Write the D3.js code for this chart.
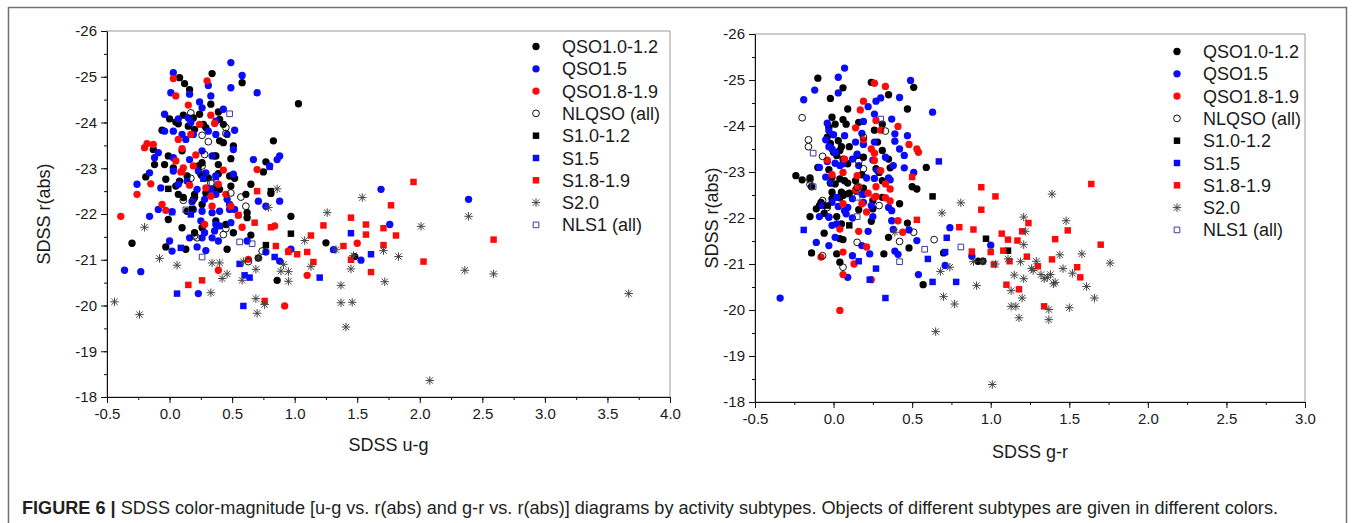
<!DOCTYPE html>
<html><head><meta charset="utf-8">
<script src="https://cdn.jsdelivr.net/npm/d3@7"></script>
<style>
body{margin:0;background:#fff;}
svg{font-family:"Liberation Sans",Arial,sans-serif;}
</style></head><body>
<script>
'use strict';
const W = 1354, H = 523;

// ---- left panel: u-g vs r(abs) ----
const ugQSO10 = [[0.08,-24.98],[0.12,-24.85],[0.16,-24.72],[0.34,-25.07],[0.58,-24.87],[1.03,-24.41],[0.00,-24.08],[0.05,-24.01],[0.11,-24.16],[0.19,-24.10],[0.24,-24.18],[0.33,-24.40],[0.39,-24.23],[0.40,-24.07],[0.43,-23.96],[-0.06,-23.83],[0.07,-23.97],[0.15,-23.92],[0.20,-23.85],[0.27,-23.96],[0.29,-23.89],[-0.13,-23.41],[-0.01,-23.27],[0.10,-23.38],[-0.12,-23.08],[-0.04,-23.08],[0.03,-23.01],[0.23,-23.05],[0.26,-23.12],[0.37,-23.27],[0.39,-23.08],[0.43,-23.56],[0.49,-23.21],[0.51,-23.49],[0.40,-23.60],[-0.19,-22.81],[-0.03,-22.76],[0.08,-22.72],[0.05,-22.61],[0.14,-22.83],[0.25,-22.87],[0.31,-22.79],[0.39,-22.88],[0.48,-22.83],[0.52,-22.78],[0.65,-22.65],[0.83,-23.60],[0.77,-23.14],[0.75,-22.92],[0.07,-22.43],[0.11,-22.36],[0.20,-22.43],[0.26,-22.21],[0.29,-22.46],[0.37,-22.57],[0.40,-22.54],[0.49,-22.61],[0.61,-22.43],[0.62,-22.03],[0.62,-21.92],[-0.01,-21.88],[0.10,-21.70],[0.20,-21.59],[0.26,-21.70],[0.37,-21.85],[0.45,-21.77],[0.51,-21.59],[0.65,-21.54],[0.97,-21.95],[0.81,-22.45],[-0.30,-21.36],[-0.03,-21.28],[0.13,-21.23],[0.46,-21.23],[0.71,-21.04],[0.86,-20.55],[1.25,-21.37],[1.48,-21.07],[0.20,-22.36],[0.14,-22.06]];
const ugQSO15 = [[0.49,-25.31],[0.03,-25.09],[0.58,-25.03],[0.01,-24.65],[0.16,-24.62],[0.49,-24.76],[0.70,-24.65],[0.31,-24.81],[0.33,-24.58],[0.24,-24.45],[0.26,-24.32],[-0.04,-24.18],[0.07,-24.08],[0.15,-24.10],[0.43,-24.29],[0.17,-24.00],[0.37,-24.03],[-0.04,-23.81],[0.03,-23.81],[0.10,-23.74],[0.19,-23.74],[0.31,-23.81],[0.13,-23.63],[0.52,-23.83],[0.46,-23.74],[0.37,-23.74],[-0.09,-23.34],[0.03,-23.23],[0.16,-23.19],[0.26,-23.38],[0.34,-23.27],[0.51,-23.41],[0.67,-23.19],[-0.12,-23.23],[-0.16,-22.90],[0.03,-22.94],[0.23,-22.94],[0.29,-22.90],[0.37,-22.83],[0.51,-22.87],[-0.26,-22.65],[-0.07,-22.57],[0.07,-22.65],[0.22,-22.54],[0.33,-22.54],[0.37,-22.43],[0.46,-22.32],[0.28,-22.32],[0.71,-22.28],[0.77,-22.17],[0.88,-22.28],[0.80,-23.05],[0.86,-23.19],[0.88,-23.27],[0.14,-22.72],[-0.09,-22.10],[0.02,-22.05],[0.19,-22.10],[0.26,-22.06],[0.34,-22.03],[0.40,-22.06],[0.48,-22.10],[0.52,-22.10],[-0.16,-21.95],[0.25,-21.85],[0.37,-21.77],[0.49,-21.81],[0.28,-21.59],[0.36,-21.63],[0.40,-21.74],[0.26,-21.48],[0.34,-21.48],[0.39,-21.41],[0.00,-21.41],[0.02,-21.19],[0.22,-21.28],[0.29,-21.20],[0.16,-21.48],[0.62,-21.41],[0.77,-21.17],[0.88,-20.97],[0.97,-21.23],[1.31,-21.22],[1.53,-20.99],[1.69,-22.54],[1.76,-21.77],[2.39,-22.32],[-0.36,-20.77],[-0.23,-20.74],[0.23,-20.26],[0.18,-22.27],[0.48,-22.21]];
const ugQSO18 = [[0.03,-24.96],[0.05,-24.58],[0.30,-24.91],[0.15,-24.38],[0.33,-24.16],[0.36,-23.98],[0.24,-23.96],[0.17,-23.74],[0.07,-23.63],[-0.20,-23.45],[-0.18,-23.54],[-0.13,-23.52],[0.10,-23.43],[0.21,-23.29],[0.05,-23.16],[0.11,-23.01],[0.19,-23.05],[0.43,-22.96],[0.70,-22.97],[-0.15,-22.66],[-0.06,-22.21],[-0.03,-22.08],[0.29,-22.57],[0.39,-22.65],[0.45,-22.43],[0.33,-22.39],[0.34,-22.17],[0.49,-22.17],[0.55,-21.97],[0.58,-21.71],[0.84,-21.74],[-0.26,-22.43],[-0.39,-21.95],[0.28,-21.77],[0.39,-20.77],[0.63,-21.01],[0.95,-21.19],[1.10,-20.66],[1.50,-21.36],[0.92,-19.99],[0.09,-22.92],[0.16,-22.63]];
const ugNLQSO = [[0.17,-24.21],[0.26,-23.72],[0.31,-23.58],[0.28,-23.30],[0.36,-23.27],[0.45,-23.89],[0.45,-23.76],[0.17,-22.78],[0.26,-22.83],[0.33,-22.68],[0.49,-22.46],[0.57,-22.37],[0.61,-22.17],[0.11,-22.30],[0.19,-22.32],[0.20,-21.52],[0.22,-21.48],[0.43,-21.55],[0.45,-21.68],[0.63,-20.96],[0.74,-21.19],[0.26,-23.05]];
const ugS10 = [[-0.01,-22.55],[0.18,-22.11],[0.81,-22.50],[0.97,-21.57],[0.77,-21.32]];
const ugS15 = [[0.02,-22.04],[0.17,-21.99],[0.80,-23.03],[0.09,-21.26],[0.56,-20.91],[0.60,-20.66],[0.64,-20.61],[0.84,-21.06],[1.20,-20.61],[1.45,-21.58],[1.61,-21.12],[0.06,-20.26],[0.59,-19.99],[0.37,-22.81],[0.27,-22.77]];
const ugS18 = [[0.10,-22.92],[0.70,-22.50],[0.55,-21.98],[0.68,-21.81],[0.81,-21.71],[1.13,-21.53],[1.23,-21.75],[1.45,-21.92],[1.57,-21.77],[1.57,-21.55],[1.71,-21.69],[1.77,-22.19],[1.95,-22.70],[1.81,-21.53],[1.71,-21.32],[1.39,-21.30],[1.45,-21.00],[0.85,-21.30],[0.95,-21.17],[1.02,-21.12],[1.10,-21.17],[1.15,-20.95],[1.61,-20.73],[2.03,-20.96],[2.59,-21.44],[0.15,-20.45],[0.26,-20.55],[0.76,-20.10]];
const ugS20 = [[-0.44,-20.08],[-0.24,-19.80],[-0.20,-21.71],[-0.08,-21.03],[0.06,-20.88],[0.33,-20.28],[0.34,-20.93],[0.40,-20.93],[0.42,-20.59],[0.46,-20.69],[0.58,-20.55],[0.59,-20.96],[0.69,-20.79],[0.69,-20.15],[0.70,-19.83],[0.76,-20.02],[0.71,-21.04],[0.86,-22.55],[0.79,-22.14],[0.89,-20.75],[0.91,-20.90],[0.95,-20.53],[0.95,-20.74],[1.08,-21.42],[1.13,-20.85],[1.26,-22.03],[1.37,-20.44],[1.37,-20.06],[1.46,-20.07],[1.41,-19.53],[1.45,-20.80],[1.47,-21.09],[1.54,-22.36],[1.71,-21.20],[1.72,-20.52],[1.83,-21.07],[2.01,-21.73],[2.08,-18.36],[2.36,-20.77],[2.39,-21.95],[2.59,-20.69],[3.67,-20.26],[1.33,-21.22]];
const ugNLS1 = [[0.48,-24.19],[0.13,-22.09],[0.56,-21.39],[0.66,-21.35],[0.26,-21.06],[0.34,-22.68]];

// ---- right panel: g-r vs r(abs) ----
const grQSO10 = [[-0.10,-25.04],[-0.02,-24.60],[0.06,-24.83],[0.24,-24.95],[0.35,-24.68],[0.51,-24.84],[0.47,-24.37],[0.09,-24.37],[-0.01,-24.19],[0.01,-24.04],[-0.03,-23.97],[0.06,-24.14],[0.08,-24.04],[0.16,-24.08],[0.26,-23.91],[0.31,-24.04],[-0.04,-23.76],[-0.02,-23.62],[0.03,-23.68],[0.05,-23.55],[0.04,-23.47],[0.10,-23.55],[0.00,-23.43],[0.02,-23.36],[0.06,-23.28],[0.09,-23.18],[0.15,-23.36],[0.19,-23.32],[0.28,-23.65],[0.31,-23.47],[0.35,-23.28],[-0.24,-22.92],[-0.20,-22.83],[-0.15,-22.87],[-0.14,-22.68],[-0.10,-23.10],[-0.03,-23.05],[-0.01,-22.89],[0.04,-22.85],[0.01,-22.74],[0.07,-22.81],[0.09,-22.76],[0.14,-22.81],[0.18,-22.94],[0.27,-23.07],[0.29,-22.99],[0.31,-22.81],[0.36,-23.09],[0.59,-23.10],[0.50,-22.68],[0.53,-22.63],[-0.11,-22.20],[-0.08,-22.34],[-0.01,-22.56],[-0.01,-22.42],[0.04,-22.44],[0.05,-22.56],[0.10,-22.54],[0.14,-22.60],[0.19,-22.65],[0.25,-22.38],[0.31,-22.45],[-0.15,-22.03],[-0.09,-22.27],[-0.06,-22.10],[-0.03,-22.02],[0.02,-22.03],[0.05,-21.87],[0.04,-21.55],[0.06,-21.53],[-0.06,-21.67],[0.16,-22.18],[0.24,-21.93],[0.25,-22.20],[0.35,-21.58],[0.42,-22.31],[0.47,-21.89],[0.48,-21.35],[-0.14,-21.24],[0.02,-21.22],[0.04,-21.04],[0.32,-21.22],[0.57,-20.55],[0.70,-21.24],[0.92,-21.06],[0.95,-21.06],[0.06,-22.49]];
const grQSO15 = [[-0.19,-24.57],[-0.12,-24.78],[0.03,-25.06],[0.03,-24.72],[0.07,-25.26],[0.49,-24.99],[0.42,-24.62],[0.22,-24.42],[0.27,-24.54],[0.30,-24.61],[0.26,-24.26],[0.63,-24.30],[-0.04,-24.06],[-0.03,-23.90],[0.00,-23.81],[0.07,-23.79],[0.19,-24.10],[0.18,-23.84],[0.14,-23.65],[0.26,-23.65],[0.37,-24.15],[0.39,-23.83],[0.39,-23.67],[0.42,-23.50],[0.45,-23.36],[-0.05,-23.70],[-0.03,-23.55],[-0.01,-23.50],[0.01,-23.43],[-0.04,-23.23],[0.06,-23.18],[0.12,-23.28],[0.15,-23.39],[0.19,-23.60],[0.25,-23.26],[0.33,-23.32],[0.38,-23.14],[0.45,-23.09],[0.47,-23.79],[0.51,-22.99],[-0.09,-23.10],[-0.05,-22.89],[-0.02,-22.76],[0.01,-23.19],[0.04,-23.14],[0.16,-23.14],[0.21,-22.87],[0.28,-23.03],[0.26,-22.86],[0.35,-22.87],[0.36,-22.83],[-0.07,-22.27],[-0.01,-22.34],[0.02,-22.45],[0.03,-22.25],[0.07,-22.16],[0.09,-22.23],[0.12,-22.42],[0.18,-22.52],[0.19,-22.34],[0.24,-22.27],[0.25,-22.03],[0.35,-22.23],[0.37,-22.16],[-0.03,-22.02],[-0.01,-21.84],[0.02,-21.87],[0.08,-22.09],[0.12,-22.00],[0.22,-21.71],[0.19,-22.51],[0.37,-21.94],[0.38,-21.75],[-0.09,-22.03],[-0.11,-21.47],[-0.03,-21.40],[0.01,-21.58],[0.12,-21.18],[0.09,-20.71],[0.18,-21.40],[0.23,-21.22],[0.39,-21.28],[0.41,-21.21],[0.48,-21.74],[0.53,-21.51],[0.54,-20.77],[0.74,-21.79],[0.71,-20.97],[1.00,-21.41],[0.88,-21.17],[-0.34,-20.26]];
const grQSO18 = [[0.26,-24.93],[0.33,-24.86],[0.19,-24.54],[0.17,-24.35],[0.27,-24.12],[0.30,-23.91],[0.14,-23.96],[0.41,-23.99],[0.19,-23.70],[0.24,-23.50],[0.26,-23.41],[0.26,-23.25],[0.07,-23.28],[0.06,-22.99],[-0.01,-22.94],[-0.04,-23.26],[0.48,-23.60],[0.53,-23.50],[0.54,-23.43],[0.15,-22.92],[0.27,-22.68],[0.30,-23.03],[0.33,-22.74],[0.36,-22.63],[0.16,-22.68],[0.14,-22.61],[0.22,-22.54],[0.18,-22.31],[0.27,-22.47],[0.33,-22.44],[0.36,-22.37],[0.21,-22.13],[0.06,-22.31],[0.41,-21.94],[0.44,-21.69],[0.04,-21.76],[0.16,-21.71],[0.21,-21.37],[0.06,-21.26],[0.13,-21.00],[0.06,-20.77],[-0.08,-21.15],[0.04,-19.99],[0.24,-20.66],[0.26,-22.45]];
const grNLQSO = [[-0.20,-24.18],[-0.16,-23.70],[-0.16,-23.55],[-0.15,-22.83],[-0.15,-22.73],[-0.07,-23.34],[-0.07,-22.38],[-0.02,-22.76],[-0.04,-22.23],[0.19,-23.76],[0.16,-23.23],[0.19,-23.07],[0.33,-23.89],[0.29,-22.27],[0.15,-22.67],[0.15,-21.47],[0.42,-21.49],[0.51,-21.69],[0.64,-21.53],[0.06,-20.93],[-0.07,-21.18]];
const grS10 = [[0.09,-22.52],[0.10,-21.84],[0.63,-22.47],[0.97,-21.55],[1.11,-21.29],[-0.04,-22.27]];
const grS15 = [[-0.19,-21.74],[0.67,-23.23],[0.72,-21.57],[0.60,-21.11],[0.71,-21.26],[0.27,-20.90],[0.23,-20.66],[0.63,-20.61],[0.78,-20.61],[0.33,-20.26],[0.16,-21.06]];
const grS18 = [[0.50,-22.89],[0.53,-21.96],[0.80,-21.80],[0.89,-21.75],[0.94,-22.67],[0.94,-22.18],[1.03,-22.47],[0.88,-21.27],[1.00,-21.26],[1.07,-21.66],[1.11,-21.53],[1.08,-21.29],[1.17,-21.51],[1.20,-21.71],[1.24,-21.89],[1.12,-21.06],[1.02,-20.99],[1.23,-21.16],[1.30,-20.95],[1.39,-21.10],[1.41,-21.54],[1.49,-21.73],[1.55,-20.93],[1.57,-20.71],[1.64,-22.74],[1.70,-21.42],[1.10,-20.55],[1.18,-20.45],[1.34,-20.08]];
const grS20 = [[0.81,-22.33],[0.69,-22.11],[0.39,-21.69],[0.68,-20.84],[0.74,-20.93],[0.70,-20.29],[0.77,-20.13],[0.65,-19.53],[0.91,-20.53],[0.89,-21.05],[0.95,-21.06],[1.03,-21.00],[1.11,-21.11],[1.15,-20.76],[1.19,-21.05],[1.21,-22.02],[1.22,-21.71],[1.21,-21.42],[1.21,-20.68],[1.13,-20.42],[1.13,-20.08],[1.16,-20.08],[1.18,-19.83],[1.20,-20.26],[1.26,-20.90],[1.27,-20.86],[1.29,-21.06],[1.32,-20.77],[1.34,-20.68],[1.36,-20.71],[1.38,-20.77],[1.37,-20.01],[1.37,-19.79],[1.39,-22.52],[1.40,-20.57],[1.41,-20.60],[1.44,-21.20],[1.46,-20.90],[1.48,-21.94],[1.52,-20.80],[1.50,-20.05],[1.58,-21.22],[1.61,-20.51],[1.66,-20.26],[1.76,-21.02],[1.01,-18.38]];
const grNLS1 = [[-0.13,-23.41],[-0.13,-22.68],[0.30,-24.15],[0.15,-22.03],[0.42,-21.05],[0.58,-21.32],[0.81,-21.37],[0.15,-22.45]];

const seriesNames = ['QSO1.0-1.2','QSO1.5','QSO1.8-1.9','NLQSO (all)','S1.0-1.2','S1.5','S1.8-1.9','S2.0','NLS1 (all)'];
const yTicks = [-26,-25,-24,-23,-22,-21,-20,-19,-18];
const ugTicks = [-0.5,0.0,0.5,1.0,1.5,2.0,2.5,3.0,3.5,4.0];
const grTicks = [-0.5,0.0,0.5,1.0,1.5,2.0,2.5,3.0];

// marker style per series, in legend order
const styles = [
  {shape:'circle', fill:'#000', stroke:'none'},
  {shape:'circle', fill:'#0a0aff', stroke:'none'},
  {shape:'circle', fill:'#ff0a0a', stroke:'none'},
  {shape:'circle', fill:'none', stroke:'#111'},
  {shape:'square', fill:'#000', stroke:'none'},
  {shape:'square', fill:'#0a0aff', stroke:'none'},
  {shape:'square', fill:'#ff0a0a', stroke:'none'},
  {shape:'star', fill:'none', stroke:'#454545'},
  {shape:'square', fill:'none', stroke:'#3b3b9e'}
];

const symStar = {
  draw(ctx, size) {
    const r = Math.sqrt(size) / 2, d = r * 0.75;
    ctx.moveTo(0, -r); ctx.lineTo(0, r);
    ctx.moveTo(-r, 0); ctx.lineTo(r, 0);
    ctx.moveTo(-d, -d); ctx.lineTo(d, d);
    ctx.moveTo(-d, d); ctx.lineTo(d, -d);
  }
};

function symPath(st) {
  if (st.shape === 'circle') return d3.symbol(d3.symbolCircle, st.fill === 'none' ? 36 : 42)();
  if (st.shape === 'square') return d3.symbol(d3.symbolSquare, st.fill === 'none' ? 32 : 42)();
  return d3.symbol(symStar, 72)();
}

function styleMarks(sel, st) {
  sel.attr('d', symPath(st))
    .attr('fill', st.fill)
    .attr('stroke', st.stroke)
    .attr('stroke-width', 1);
}

const svg = d3.select('body').append('svg').attr('width', W).attr('height', H);

// figure frame
svg.append('rect').attr('x', 8.5).attr('y', 7.5).attr('width', 1338).attr('height', 540)
  .attr('fill', 'none').attr('stroke', '#707070').attr('stroke-width', 1.5);

function panel(cfg) {
  const x = d3.scaleLinear().domain(cfg.xDom).range(cfg.xRange);
  const y = d3.scaleLinear().domain([-26, -18]).range(cfg.yRange);
  const g = svg.append('g');

  // plot frame (top / right)
  g.append('rect')
    .attr('x', cfg.xRange[0]).attr('y', cfg.yRange[0])
    .attr('width', cfg.xRange[1] - cfg.xRange[0]).attr('height', cfg.yRange[1] - cfg.yRange[0])
    .attr('fill', 'none').attr('stroke', '#9a9a9a').attr('stroke-width', 1);

  // minor ticks
  const xMinor = [];
  for (let v = cfg.xDom[0]; v <= cfg.xDom[1] + 1e-9; v += 0.25) xMinor.push(+v.toFixed(2));
  const yMinor = d3.range(-26, -17.9, 0.5);
  g.append('g').attr('transform', `translate(0,${cfg.yRange[1]})`)
    .call(d3.axisBottom(x).tickValues(xMinor).tickSize(3).tickFormat(''))
    .call(a => a.select('.domain').remove());
  g.append('g').attr('transform', `translate(${cfg.xRange[0]},0)`)
    .call(d3.axisLeft(y).tickValues(yMinor).tickSize(3).tickFormat(''))
    .call(a => a.select('.domain').remove());

  const xa = g.append('g').attr('transform', `translate(0,${cfg.yRange[1]})`)
    .call(d3.axisBottom(x).tickValues(cfg.xTicks).tickSize(6).tickSizeOuter(0).tickPadding(5)
      .tickFormat(d => d.toFixed(1)));
  const ya = g.append('g').attr('transform', `translate(${cfg.xRange[0]},0)`)
    .call(d3.axisLeft(y).tickValues(yTicks).tickSize(6).tickSizeOuter(0).tickPadding(4)
      .tickFormat(d => String(d)));
  [xa, ya].forEach(a => {
    a.selectAll('text').attr('font-size', 15).attr('fill', '#1a1a1a').attr('font-family', null);
    a.selectAll('line, path').attr('stroke', '#111');
  });
  g.selectAll('.tick line').attr('stroke', '#111');

  // axis titles
  g.append('text').attr('x', (cfg.xRange[0] + cfg.xRange[1]) / 2).attr('y', cfg.xTitleY)
    .attr('text-anchor', 'middle').attr('font-size', 18).attr('fill', '#1a1a1a').text(cfg.xTitle);
  g.append('text').attr('transform', `translate(${cfg.yTitleX},${(cfg.yRange[0] + cfg.yRange[1]) / 2}) rotate(-90)`)
    .attr('text-anchor', 'middle').attr('font-size', 18).attr('fill', '#1a1a1a').text('SDSS r(abs)');

  // points
  cfg.data.forEach((pts, i) => {
    const st = styles[i];
    styleMarks(g.append('g').selectAll('path').data(pts).join('path')
      .attr('transform', d => `translate(${x(d[0])},${y(d[1])})`), st);
  });

  // legend
  const lg = g.append('g').attr('transform', `translate(${cfg.legend[0]},${cfg.legend[1]})`);
  seriesNames.forEach((name, i) => {
    const row = lg.append('g').attr('transform', `translate(0,${i * 22.3})`);
    styleMarks(row.append('path'), styles[i]);
    row.append('text').attr('x', 26).attr('y', 6.5).attr('font-size', 18).attr('fill', '#1a1a1a').text(name);
  });
}

panel({
  xDom: [-0.5, 4.0], xRange: [107, 670], yRange: [31, 397], xTicks: ugTicks,
  xTitle: 'SDSS u-g', xTitleY: 451, yTitleX: 50,
  data: [ugQSO10, ugQSO15, ugQSO18, ugNLQSO, ugS10, ugS15, ugS18, ugS20, ugNLS1],
  legend: [536, 46.5]
});
panel({
  xDom: [-0.5, 3.0], xRange: [755, 1305], yRange: [34, 402], xTicks: grTicks,
  xTitle: 'SDSS g-r', xTitleY: 458, yTitleX: 718,
  data: [grQSO10, grQSO15, grQSO18, grNLQSO, grS10, grS15, grS18, grS20, grNLS1],
  legend: [1177, 51.5]
});

// caption
const cap = svg.append('text').attr('x', 22).attr('y', 514).attr('font-size', 17.5).attr('fill', '#231f20')
  .attr('textLength', 1256).attr('lengthAdjust', 'spacingAndGlyphs');
cap.append('tspan').attr('font-weight', 'bold').text('FIGURE 6 |');
cap.append('tspan').text(' SDSS color-magnitude [u-g vs. r(abs) and g-r vs. r(abs)] diagrams by activity subtypes. Objects of different subtypes are given in different colors.');
</script>
</body></html>
